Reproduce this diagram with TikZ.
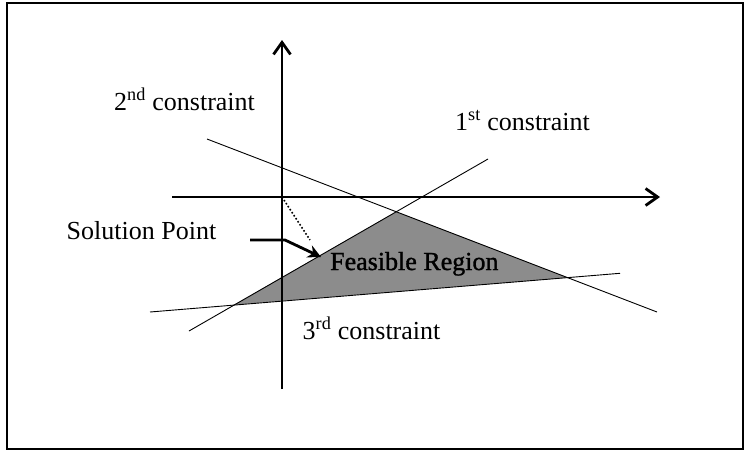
\documentclass[tikz,border=0pt]{standalone}
\usepackage{fontspec}
\setmainfont{Liberation Serif}
\newfontface\regionfont{Liberation Serif}[FakeBold=1.2]
\usetikzlibrary{positioning,arrows.meta,calc}

\begin{document}
\begin{tikzpicture}[
  x=1pt, y=-1pt,
  axis/.style={line width=2.8pt, -{Straight Barb[length=12pt,width=17pt,line width=2.8pt]}},
  cline/.style={line width=0.9pt},
  label/.style={anchor=base west, inner sep=0pt, font=\fontsize{26}{30}\selectfont},
  region/.style={fill=black!45, draw=none},
  pointer/.style={line width=2.8pt, -{Stealth[length=13pt,width=13pt]}}
]
\useasboundingbox (0,0) rectangle (747,451);

% Frame
\draw[line width=2pt] (6.5,2.5) rectangle (742.5,448.5);

% Feasible region
\coordinate (P12) at (396.4,211.6);
\coordinate (P23) at (568.0,277.6);
\coordinate (P13) at (234.0,304.8);
\fill[region] (P12) -- (P23) -- (P13) -- cycle;

% Axes
\coordinate (O) at (282,197);
\coordinate (xend) at (660,197);
\coordinate (yend) at (282,40);
\draw[axis] (172,197) -- (xend);
\draw[axis] (282,389) -- (yend);

% Constraints
\coordinate (c1a) at (189,331);
\coordinate (c1b) at (488,159);
\coordinate (c2a) at (207,139);
\coordinate (c2b) at (657,312);
\coordinate (c3a) at (150,312);
\coordinate (c3b) at (620,273.3);
\draw[cline] (c1a) -- (c1b);
\draw[cline] (c2a) -- (c2b);
\draw[cline] (c3a) -- (c3b);

% Labels
\node[label] (lab2) at (114,110) {2\textsuperscript{nd} constraint};
\node[label] (lab1) at (455,130) {1\textsuperscript{st} constraint};
\node[label] (lab3) at (302.5,339) {3\textsuperscript{rd} constraint};
\node[label] (sol) at (66.5,239) {Solution Point};
\node[label, font=\fontsize{26}{30}\regionfont] (feas) at (330,270) {Feasible Region};

% Solution point
\coordinate (foot) at (310,240);
\coordinate (tip) at (321,257);
\draw[line width=1.6pt, dotted] (O) -- (foot);
\draw[pointer] (250,240) -- (285,240) -- (tip);

\end{tikzpicture}
\end{document}
